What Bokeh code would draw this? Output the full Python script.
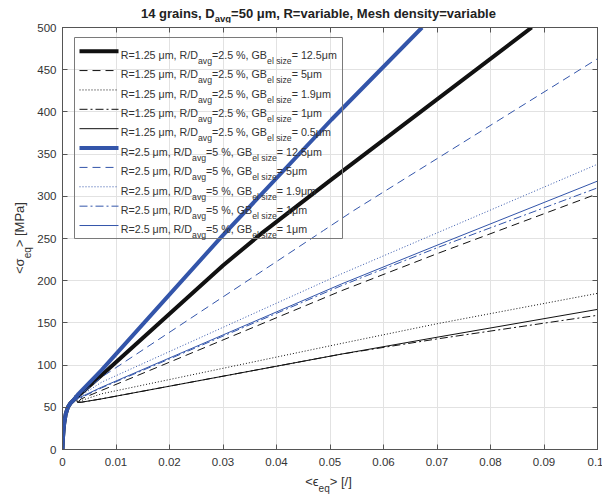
import html
from bokeh.plotting import figure
from bokeh.models import Range1d, FixedTicker, LinearAxis, Label, Div
from bokeh.layouts import column, row
from bokeh.embed import file_html
from bokeh.resources import INLINE

# ---------------- data ----------------
x_ticks = [0, 0.01, 0.02, 0.03, 0.04, 0.05, 0.06, 0.07, 0.08, 0.09, 0.1]
x_tick_labels = ["0", "0.01", "0.02", "0.03", "0.04", "0.05", "0.06", "0.07", "0.08", "0.09", "0.1"]
y_ticks = [0, 50, 100, 150, 200, 250, 300, 350, 400, 450, 500]

start_x = [0, 0.0001, 0.0003, 0.0006, 0.001, 0.0015, 0.002]
start_y = [0, 15, 30, 42, 50, 55, 58]
notch_x = [0.0024, 0.0028]
notch_y = [64, 56]

r125_gb125_x = start_x + [0.003, 0.0073, 0.03, 0.0372, 0.0503, 0.0877]
r125_gb125_y = start_y + [64, 88, 218, 256, 320, 500]
r125_gb5_x = start_x + notch_x + [0.0035, 0.0073, 0.0521, 0.07, 0.1]
r125_gb5_y = start_y + notch_y + [60, 70, 188, 232, 303]
r125_gb19_x = start_x + notch_x + [0.0035, 0.0073, 0.0521, 0.07, 0.1]
r125_gb19_y = start_y + notch_y + [58, 66, 125.6, 149, 185]
r125_gb1_x = start_x + notch_x + [0.0035, 0.0073, 0.0521, 0.07, 0.1]
r125_gb1_y = start_y + notch_y + [56, 60, 113, 131, 159]
r125_gb05_x = start_x + notch_x + [0.0035, 0.0073, 0.0521, 0.07, 0.1]
r125_gb05_y = start_y + notch_y + [56, 60, 113, 133, 166]

r25_gb125_x = start_x + [0.003, 0.0073, 0.0297, 0.0503, 0.0672]
r25_gb125_y = start_y + [66, 94, 252, 391, 500]
r25_gb5_x = start_x + [0.003, 0.0073, 0.0488, 0.0544, 0.1]
r25_gb5_y = start_y + [63, 85.7, 259.5, 283, 463]
r25_gb19_x = start_x + [0.003, 0.0073, 0.0521, 0.1]
r25_gb19_y = start_y + [62, 79.7, 208, 338]
r25_gb1a_x = start_x + [0.003, 0.0073, 0.0521, 0.07, 0.1]
r25_gb1a_y = start_y + [60, 73, 194, 239, 310]
r25_gb1b_x = start_x + [0.003, 0.0073, 0.0521, 0.07, 0.1]
r25_gb1b_y = start_y + [61, 73.8, 196, 242, 318]

gb_sizes_125 = ["12.5", "5", "1.9", "1", "0.5"]
gb_sizes_25 = ["12.5", "5", "1.9", "1", "1"]

BLACK = "#111111"
BLUE = "#3355AA"
DASH = "8 5"
DOT = "1 2"
DASHDOT = "8 3 2 3"

series = [
    (r125_gb125_x, r125_gb125_y, BLACK, 4.0, "solid"),
    (r125_gb5_x, r125_gb5_y, BLACK, 1.0, DASH),
    (r125_gb19_x, r125_gb19_y, BLACK, 1.0, DOT),
    (r125_gb1_x, r125_gb1_y, BLACK, 1.0, DASHDOT),
    (r125_gb05_x, r125_gb05_y, BLACK, 1.0, "solid"),
    (r25_gb125_x, r25_gb125_y, BLUE, 4.0, "solid"),
    (r25_gb5_x, r25_gb5_y, BLUE, 1.0, DASH),
    (r25_gb19_x, r25_gb19_y, BLUE, 1.0, DOT),
    (r25_gb1a_x, r25_gb1a_y, BLUE, 1.0, DASHDOT),
    (r25_gb1b_x, r25_gb1b_y, BLUE, 1.0, "solid"),
]

# ---------------- layout ----------------
FONT = "Liberation Sans"
FONT_CSS = "'Liberation Sans', Arial, sans-serif"
FRAME_W, FRAME_H = 535, 422
XMAX, YMAX = 0.1, 500
YL_W = 34          # width of the y-label strip
TITLE_H = 22       # height of the title strip
XL_H = 24          # height of the x-label strip

p = figure(frame_width=FRAME_W, frame_height=FRAME_H,
           min_border_left=27, min_border_right=6, min_border_top=5, min_border_bottom=22,
           x_range=Range1d(0, XMAX), y_range=Range1d(0, YMAX),
           output_backend="svg", toolbar_location=None, tools="",
           background_fill_color="white", border_fill_color="white", margin=0)
p.outline_line_color = "#555555"
p.outline_line_width = 1

AX_COL = "#555555"
LBL_COL = "#333333"
for ax in p.xaxis + p.yaxis:
    ax.axis_line_color = AX_COL
    ax.major_tick_line_color = AX_COL
    ax.major_tick_in = 5
    ax.major_tick_out = 0
    ax.minor_tick_line_color = None
    ax.major_label_text_font = FONT
    ax.major_label_text_font_size = "11.5px"
    ax.major_label_text_color = LBL_COL
p.xaxis.ticker = FixedTicker(ticks=x_ticks)
p.xaxis.major_label_overrides = {t: s for t, s in zip(x_ticks, x_tick_labels)}
p.xaxis.major_label_standoff = 8
p.yaxis.ticker = FixedTicker(ticks=y_ticks)
p.yaxis.major_label_standoff = 6

for loc, ticks in (("right", y_ticks), ("above", x_ticks)):
    ax2 = LinearAxis(ticker=FixedTicker(ticks=ticks))
    ax2.axis_line_color = AX_COL
    ax2.major_tick_line_color = AX_COL
    ax2.major_tick_in = 5
    ax2.major_tick_out = 0
    ax2.minor_tick_line_color = None
    ax2.major_label_text_font_size = "0px"
    ax2.major_label_text_color = None
    ax2.major_label_standoff = 0
    p.add_layout(ax2, loc)

p.xgrid.ticker = FixedTicker(ticks=x_ticks)
p.ygrid.ticker = FixedTicker(ticks=y_ticks)
p.xgrid.grid_line_color = "#e2e2e2"
p.ygrid.grid_line_color = "#e2e2e2"

for xs, ys, col, lw, dash in series:
    p.line(xs, ys, line_color=col, line_width=lw, line_dash=dash, line_join="round")

# ---------------- legend (inside the frame) ----------------
W_REG = {' ': 278, '%': 889, ',': 278, '.': 278, '/': 278, '=': 584, '<': 584, '>': 584,
         '[': 278, ']': 278, 'B': 667, 'D': 722, 'G': 778, 'M': 833, 'P': 667, 'R': 722,
         'a': 556, 'b': 556, 'd': 556, 'e': 556, 'g': 556, 'h': 556, 'i': 222, 'l': 222,
         'm': 833, 'n': 556, 'q': 556, 'r': 333, 's': 500, 't': 278, 'v': 500, 'y': 500,
         'z': 500, 'μ': 575}


def text_w(s, size):
    return sum(W_REG.get(c, 556) for c in s) * size / 1000.0


PAGE_FX, PAGE_FY = YL_W + 27, TITLE_H + 5   # frame's top-left corner on the page


def put(text, px, py, size, color=LBL_COL):
    p.add_layout(Label(x=0, y=YMAX, x_offset=px - PAGE_FX, y_offset=PAGE_FY - py, text=text,
                       text_font=FONT, text_font_size=f"{size}px", text_color=color,
                       text_baseline="alphabetic", text_align="left"))


def rich_h(parts, px, py, size, sub_size, sub_drop, color=LBL_COL):
    x = px
    for txt, is_sub in parts:
        if is_sub:
            put(txt, x, py + sub_drop, sub_size, color)
            x += text_w(txt, sub_size)
        else:
            put(txt, x, py, size, color)
            x += text_w(txt, size)


LEG_L, LEG_T, LEG_R, LEG_B = 73, 37, 341, 238
SX, SY = FRAME_W / XMAX, FRAME_H / YMAX


def dx(px):
    return (px - PAGE_FX) / SX


def dy(py):
    return YMAX - (py - PAGE_FY) / SY


p.line([dx(LEG_L), dx(LEG_R), dx(LEG_R), dx(LEG_L), dx(LEG_L)],
       [dy(LEG_T), dy(LEG_T), dy(LEG_B), dy(LEG_B), dy(LEG_T)],
       line_color="#7a7a7a", line_width=1)

ROW0, ROWH = 50.7, 19.37
for i, (xs, ys, col, lw, dash) in enumerate(series):
    cy = ROW0 + i * ROWH
    p.line([dx(78), dx(117)], [dy(cy), dy(cy)], line_color=col, line_width=lw, line_dash=dash)
    if i < 5:
        parts = [("R=1.25 μm, R/D", False), ("avg", True), ("=2.5 %, GB", False), ("el size", True),
                 ("= " + gb_sizes_125[i] + "μm", False)]
    else:
        parts = [("R=2.5 μm, R/D", False), ("avg", True), ("=5 %, GB", False), ("el size", True),
                 ("= " + gb_sizes_25[i - 5] + "μm", False)]
    rich_h(parts, 119.3, cy + 3.8, 10.7, 8.7, 6)

# ---------------- title and axis labels (HTML with real sub-scripts) ----------------


def rich_html(parts, sub_size, sub_drop):
    out = []
    for txt, is_sub in parts:
        t = html.escape(txt)
        if is_sub:
            out.append(f'<span style="font-size:{sub_size}px;position:relative;top:{sub_drop}px;'
                       f'line-height:0">{t}</span>')
        else:
            out.append(t)
    return "".join(out)


title_parts = [("14 grains, D", False), ("avg", True), ("=50 μm, R=variable, Mesh density=variable", False)]
xl_parts = [("<ϵ", False), ("eq", True), ("> [/]", False)]
yl_parts = [("<σ", False), ("eq", True), ("> [MPa]", False)]

title_div = Div(
    text=(f'<div style="position:relative;left:141px;top:5.5px;white-space:nowrap;'
          f'font-family:{FONT_CSS};font-size:13px;font-weight:bold;line-height:13px;color:#222222">'
          f'{rich_html(title_parts, 9.5, 4.5)}</div>'),
    width=YL_W + 27 + FRAME_W + 6, height=TITLE_H, margin=0)

fig_h = 5 + FRAME_H + 22
ylabel_div = Div(
    text=(f'<div style="position:relative;width:{YL_W}px;height:{fig_h}px">'
          f'<div style="position:absolute;left:12.5px;top:{5 + FRAME_H}px;width:{FRAME_H}px;height:13px;'
          f'transform-origin:0 0;transform:rotate(-90deg);text-align:center;white-space:nowrap;'
          f'font-family:{FONT_CSS};font-size:13px;line-height:13px;color:{LBL_COL}">'
          f'{rich_html(yl_parts, 10, 6.5)}</div></div>'),
    width=YL_W, height=fig_h, margin=0)

xlabel_div = Div(
    text=(f'<div style="position:relative;left:{YL_W + 27}px;top:2.5px;width:{FRAME_W}px;text-align:center;'
          f'white-space:nowrap;font-family:{FONT_CSS};font-size:13px;line-height:13px;color:{LBL_COL}">'
          f'{rich_html(xl_parts, 10, 6.5)}</div>'),
    width=YL_W + 27 + FRAME_W + 6, height=XL_H, margin=0)

layout = column(title_div, row(ylabel_div, p, spacing=0, margin=0), xlabel_div, spacing=0, margin=0)

open("out.html", "w").write(file_html(layout, INLINE))
